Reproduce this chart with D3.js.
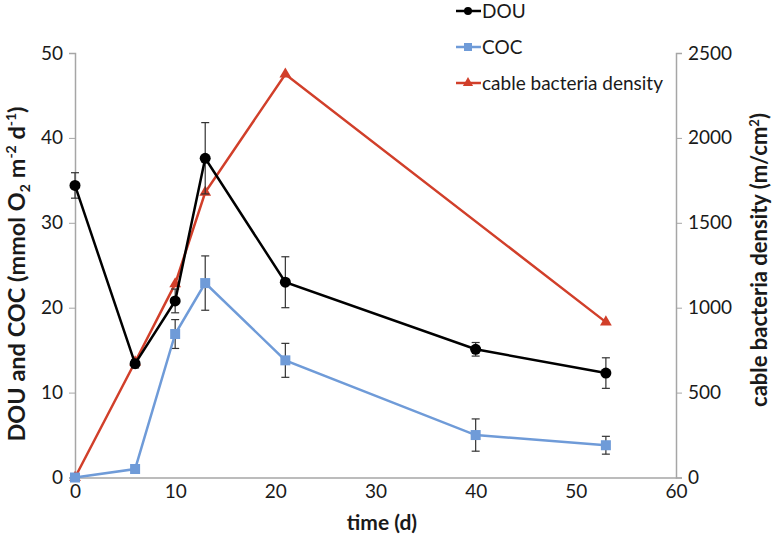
<!DOCTYPE html>
<html><head><meta charset="utf-8">
<script src="https://cdn.jsdelivr.net/npm/d3@7"></script>
<style>body{margin:0;background:#fff}svg{display:block}</style>
</head><body>
<script>
// Data
const daysDOU = [0, 6, 10, 13, 21, 40, 53];
const douValues = [34.4, 13.4, 20.8, 37.6, 23.0, 15.1, 12.3];
const douErrors = [1.5, 0.5, 1.4, 4.2, 3.0, 0.8, 1.8];
const cocValues = [0.0, 1.0, 16.9, 22.9, 13.8, 5.0, 3.8];
const cocErrors = [0, 0, 1.7, 3.2, 2.0, 1.9, 1.05];
const daysCable = [0, 6, 10, 13, 21, 53];
const cableValues = [0, 680, 1140, 1680, 2375, 915];
const xTicks = [0, 10, 20, 30, 40, 50, 60];
const leftTicks = [0, 10, 20, 30, 40, 50];
const rightTicks = [0, 500, 1000, 1500, 2000, 2500];
const legendLabels = ["DOU", "COC", "cable bacteria density"];

const W = 772, H = 539;
const FONT = "Lato, 'Open Sans', sans-serif";
const svg = d3.select("body").append("svg").attr("width", W).attr("height", H)
  .style("font-family", FONT);

const x = d3.scaleLinear().domain([0, 60]).range([75, 676]);
const yL = d3.scaleLinear().domain([0, 50]).range([477.5, 53]);
const yR = d3.scaleLinear().domain([0, 2500]).range([477.5, 53]);

const axisColor = "#a6a6a6";
const tickFont = 19;
const textColor = "#1a1a1a";

// x axis
const gx = svg.append("g").attr("transform", `translate(0,${yL(0)})`)
  .call(d3.axisBottom(x).tickValues(xTicks).tickSize(0).tickPadding(7));
gx.select(".domain").attr("stroke", axisColor).attr("stroke-width", 1.5);
gx.selectAll("text").attr("font-size", tickFont).attr("fill", textColor).style("font-family", FONT);

// left axis
const gl = svg.append("g").attr("transform", `translate(${x(0)},0)`)
  .call(d3.axisLeft(yL).tickValues(leftTicks).tickSize(6).tickPadding(6).tickFormat(d3.format("d")));
gl.select(".domain").attr("stroke", axisColor).attr("stroke-width", 1.5);
gl.selectAll(".tick line").attr("stroke", axisColor);
gl.selectAll("text").attr("font-size", tickFont).attr("fill", textColor).style("font-family", FONT);

// right axis
const gr = svg.append("g").attr("transform", `translate(${x(60)},0)`)
  .call(d3.axisRight(yR).tickValues(rightTicks).tickSize(6).tickPadding(6).tickFormat(d3.format("d")));
gr.select(".domain").attr("stroke", axisColor).attr("stroke-width", 1.5);
gr.selectAll(".tick line").attr("stroke", axisColor);
gr.selectAll("text").attr("font-size", tickFont).attr("fill", textColor).style("font-family", FONT);

// Axis titles
svg.append("text").attr("x", 382).attr("y", 530).attr("text-anchor", "middle")
  .attr("font-size", 21).attr("font-weight", "bold").attr("fill", textColor).text("time (d)");

const lt = svg.append("text").attr("transform", "translate(25,274) rotate(-90)")
  .attr("text-anchor", "middle").attr("font-size", 23.5).attr("font-weight", "bold").attr("fill", textColor);
lt.append("tspan").text("DOU and COC (mmol O");
lt.append("tspan").attr("font-size", 14).attr("dy", 5).text("2");
lt.append("tspan").attr("dy", -5).text(" m");
lt.append("tspan").attr("font-size", 14).attr("dy", -9).text("-2");
lt.append("tspan").attr("dy", 9).text(" d");
lt.append("tspan").attr("font-size", 14).attr("dy", -9).text("-1");
lt.append("tspan").attr("dy", 9).text(")");

const rt = svg.append("text").attr("transform", "translate(767,260) rotate(-90)")
  .attr("text-anchor", "middle").attr("font-size", 22).attr("font-weight", "bold").attr("fill", textColor);
rt.append("tspan").text("cable bacteria density (m/cm");
rt.append("tspan").attr("font-size", 13).attr("dy", -8).text("2");
rt.append("tspan").attr("dy", 8).text(")");

// Colors
const cDOU = "#000000", cCOC = "#6f9bd8", cCable = "#d13f2a";

// Error bars
function errorBars(vals, errs) {
  const g = svg.append("g").attr("stroke", "#333").attr("stroke-width", 1.2);
  daysDOU.forEach((d, i) => {
    if (!errs[i]) return;
    const cx = x(d), y1 = yL(vals[i] + errs[i]), y2 = yL(vals[i] - errs[i]);
    g.append("line").attr("x1", cx).attr("x2", cx).attr("y1", y1).attr("y2", y2);
    g.append("line").attr("x1", cx - 4).attr("x2", cx + 4).attr("y1", y1).attr("y2", y1);
    g.append("line").attr("x1", cx - 4).attr("x2", cx + 4).attr("y1", y2).attr("y2", y2);
  });
}

// Lines
const lineL = d3.line().x(d => x(d[0])).y(d => yL(d[1]));
const lineR = d3.line().x(d => x(d[0])).y(d => yR(d[1]));

const tri = d3.symbol().type(d3.symbolTriangle).size(60);

// cable (red)
svg.append("path").datum(daysCable.map((d, i) => [d, cableValues[i]]))
  .attr("d", lineR).attr("fill", "none").attr("stroke", cCable).attr("stroke-width", 2.5);
svg.selectAll(".tri").data(daysCable.map((d, i) => [d, cableValues[i]])).enter()
  .append("path").attr("d", tri).attr("fill", cCable)
  .attr("transform", d => `translate(${x(d[0])},${yR(d[1])})`);

// COC (blue)
errorBars(cocValues, cocErrors);
svg.append("path").datum(daysDOU.map((d, i) => [d, cocValues[i]]))
  .attr("d", lineL).attr("fill", "none").attr("stroke", cCOC).attr("stroke-width", 2.5);
svg.selectAll(".sq").data(daysDOU.map((d, i) => [d, cocValues[i]])).enter()
  .append("rect").attr("x", d => x(d[0]) - 5).attr("y", d => yL(d[1]) - 5)
  .attr("width", 10).attr("height", 10).attr("fill", cCOC);

// DOU (black)
errorBars(douValues, douErrors);
svg.append("path").datum(daysDOU.map((d, i) => [d, douValues[i]]))
  .attr("d", lineL).attr("fill", "none").attr("stroke", cDOU).attr("stroke-width", 2.5);
svg.selectAll(".dot").data(daysDOU.map((d, i) => [d, douValues[i]])).enter()
  .append("circle").attr("cx", d => x(d[0])).attr("cy", d => yL(d[1])).attr("r", 5.5).attr("fill", cDOU);

// Legend
const legY = [11, 47, 83];
const legColors = [cDOU, cCOC, cCable];
legendLabels.forEach((lab, i) => {
  const g = svg.append("g").attr("transform", `translate(0,${legY[i]})`);
  g.append("line").attr("x1", 456).attr("x2", 481).attr("y1", 0).attr("y2", 0)
    .attr("stroke", legColors[i]).attr("stroke-width", 2.5);
  if (i === 0) g.append("circle").attr("cx", 468).attr("cy", 0).attr("r", 4).attr("fill", cDOU);
  if (i === 1) g.append("rect").attr("x", 464).attr("y", -4).attr("width", 8).attr("height", 8).attr("fill", cCOC);
  if (i === 2) g.append("path").attr("d", d3.symbol().type(d3.symbolTriangle).size(45)).attr("fill", cCable).attr("transform", "translate(468,0)");
  g.append("text").attr("x", 482).attr("y", 0).attr("dy", "0.36em").attr("font-size", 19)
    .attr("fill", textColor).text(lab);
});
</script>
</body></html>
